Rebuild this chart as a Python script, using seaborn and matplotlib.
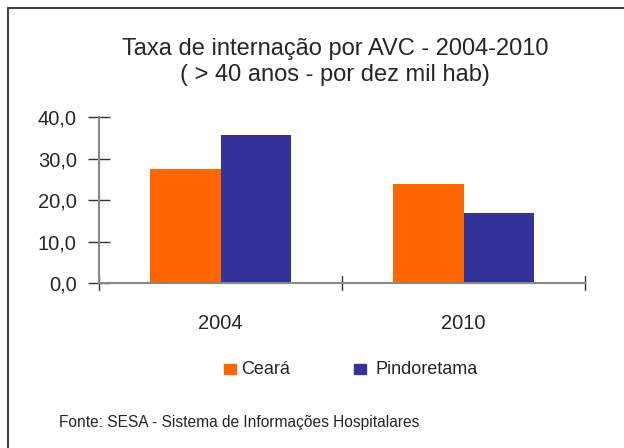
import pandas as pd
import matplotlib.pyplot as plt
import seaborn as sns
from matplotlib.lines import Line2D
from matplotlib.patches import Rectangle

sns.set_style("white")
plt.rcParams["font.family"] = ["Liberation Sans", "DejaVu Sans"]

YEARS = ["2004", "2010"]
SERIES = ["Ceará", "Pindoretama"]
CEARA = [27.5, 23.9]
PINDORETAMA = [35.7, 16.9]
COLORS = {"Ceará": "#FF6600", "Pindoretama": "#333399"}

df = pd.DataFrame({
    "ano": YEARS * 2,
    "local": [SERIES[0]] * 2 + [SERIES[1]] * 2,
    "taxa": CEARA + PINDORETAMA,
})

fig = plt.figure(figsize=(6.24, 4.48), dpi=100)
ax = fig.add_axes([0.1587, 0.3683, 0.7788, 0.3705])

sns.barplot(data=df, x="ano", y="taxa", hue="local", order=YEARS,
            hue_order=SERIES, palette=COLORS, width=0.58, saturation=1,
            linewidth=0, ax=ax, legend=False)

ax.set_xlim(-0.5, 1.5)
ax.set_ylim(0, 40)
ax.set_yticks([0, 10, 20, 30, 40])
ax.set_yticklabels([f"{v:.1f}".replace(".", ",") for v in [0, 10, 20, 30, 40]])
ax.set_xticks([0, 1])
ax.set_xticklabels(YEARS)
ax.tick_params(axis="x", bottom=False, length=0, pad=22, labelsize=14.5)
ax.tick_params(axis="y", left=True, direction="inout", length=16, width=1,
               color="#333333", labelsize=14.5, pad=8)
# category boundary ticks on the x axis
for xb in [-0.5, 0.5, 1.5]:
    ax.plot([xb, xb], [-1.7, 1.7], color="#333333", lw=1, clip_on=False)
ax.set_xlabel("")
ax.set_ylabel("")
for s in ["top", "right"]:
    ax.spines[s].set_visible(False)
for s in ["left", "bottom"]:
    ax.spines[s].set_color("#888888")
    ax.spines[s].set_linewidth(1.5)

fig.text(0.537, 0.890, "Taxa de internação por AVC - 2004-2010",
         ha="center", va="center", fontsize=17)
fig.text(0.537, 0.832, "( > 40 anos - por dez mil hab)",
         ha="center", va="center", fontsize=17)

# legend
fig.patches.append(Rectangle((0.359, 0.165), 0.019, 0.022, color=COLORS["Ceará"],
                             transform=fig.transFigure))
fig.text(0.386, 0.176, "Ceará", ha="left", va="center", fontsize=13)
fig.patches.append(Rectangle((0.567, 0.165), 0.019, 0.022, color=COLORS["Pindoretama"],
                             transform=fig.transFigure))
fig.text(0.601, 0.176, "Pindoretama", ha="left", va="center", fontsize=13)

fig.text(0.094, 0.056, "Fonte: SESA - Sistema de Informações Hospitalares",
         ha="left", va="center", fontsize=11.2)

# frame: only top and left edges are visible in the crop
fig.add_artist(Line2D([0.013, 1.0], [0.982, 0.982], color="#444444", lw=1.5,
                      transform=fig.transFigure))
fig.add_artist(Line2D([0.013, 0.013], [0.0, 0.982], color="#444444", lw=1.5,
                      transform=fig.transFigure))

fig.savefig("out.png", dpi=100)
